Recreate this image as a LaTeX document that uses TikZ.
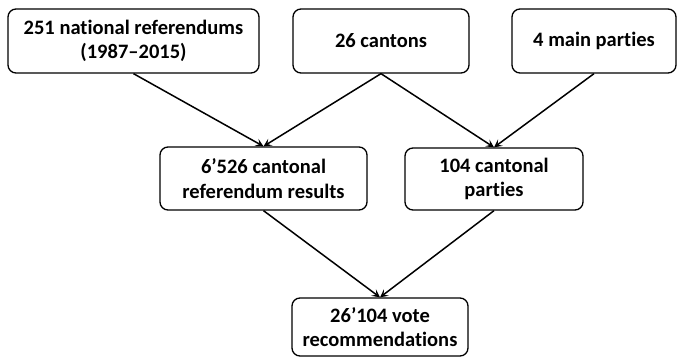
\documentclass[tikz,border=0pt]{standalone}
\usepackage{fontspec}
\setmainfont[Ligatures={NoCommon}]{Carlito}
\usetikzlibrary{arrows.meta}
\begin{document}
\begin{tikzpicture}[x=1pt,y=-1pt,
  box/.style={draw=black, line width=1.3pt, rounded corners=8pt, align=center,
    font=\fontsize{20.5}{24.5}\selectfont\bfseries, inner sep=0pt, fill=white},
  conn/.style={line width=1.5pt, -{Stealth[length=8pt,width=8pt,inset=3.5pt]}}]
\useasboundingbox (0,0) rectangle (680,358);
\node[box, minimum width=251pt, minimum height=64pt] (A) at (133.5,41) {251 national referendums\\(1987--2015)};
\node[box, minimum width=176pt, minimum height=64pt] (B) at (381,41) {26 cantons};
\node[box, minimum width=164pt, minimum height=64pt] (C) at (594,41) {4 main parties};
\node[box, minimum width=207pt, minimum height=63pt] (D) at (263.5,178.5) {6’526 cantonal\\referendum results};
\node[box, minimum width=178pt, minimum height=62pt] (E) at (494,179) {104 cantonal\\parties};
\node[box, minimum width=176pt, minimum height=58pt] (F) at (380,327) {26’104 vote\\recommendations};
\draw[conn] (A.south) -- (D.north);
\draw[conn] (B.south) -- (D.north);
\draw[conn] (B.south) -- (E.north);
\draw[conn] (C.south) -- (E.north);
\draw[conn] (D.south) -- (F.north);
\draw[conn] (E.south) -- (F.north);
\end{tikzpicture}
\end{document}
